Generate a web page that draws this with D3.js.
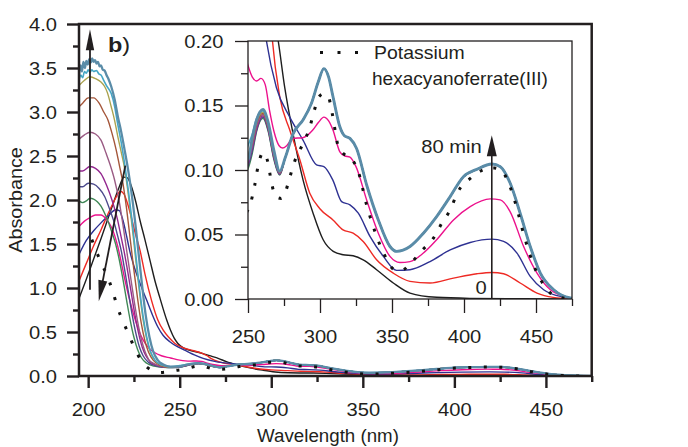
<!DOCTYPE html>
<html>
<head>
<meta charset="utf-8">
<script src="https://cdn.jsdelivr.net/npm/d3@7"></script>
<style>
  html, body { margin: 0; padding: 0; background: #fff; }
  svg { display: block; }
  text { font-family: "Liberation Sans", Arial, Helvetica, sans-serif; fill: #231f20; }
</style>
</head>
<body>
<svg id="chart" width="688" height="447"></svg>
<script>
// ---- Spectra: [wavelength (nm), absorbance] ----
const spec0min = [[195,0.88],[199,1.10],[203,1.33],[207,1.56],[211,1.80],[214,1.98],[217,2.15],[219.5,2.26],[221.5,2.25],[223.7,2.15],[226,1.98],[228.3,1.77],[231,1.55],[233.7,1.32],[236.5,1.08],[239,0.90],[241,0.76],[243,0.63],[245,0.52],[247,0.43],[249,0.37],[252,0.32],[256,0.29],[260,0.27],[264,0.245],[268,0.22],[271,0.20],[275.5,0.164],[281.3,0.128],[288.3,0.092],[295.2,0.0665],[302.2,0.0459],[309.2,0.0369],[316,0.0343],[323,0.0335],[330,0.0304],[339.3,0.0227],[350.9,0.0124],[362.5,0.0046],[381,0.0013],[404,0.0005],[440,0.0002],[475,0]];

const specRed = [[195,1.08],[199,1.28],[203,1.48],[207,1.66],[211,1.85],[214,1.98],[216,2.06],[217.5,2.10],[219.5,2.07],[221.5,1.96],[223.5,1.81],[226,1.60],[228.3,1.43],[231,1.16],[234.6,0.86],[238,0.64],[241,0.52],[244,0.44],[247.4,0.37],[252,0.32],[257,0.29],[262,0.26],[265,0.23],[267,0.20],[272,0.157],[279,0.131],[286,0.108],[292.9,0.082],[299.9,0.070],[309,0.0613],[316,0.0536],[323,0.051],[330,0.0446],[339.3,0.0304],[350.9,0.020],[362.5,0.0137],[376.4,0.0124],[392.7,0.0162],[409,0.0196],[419.4,0.0206],[427.5,0.0196],[439,0.0124],[450.7,0.0046],[462,0.0013],[475,0.0002]];

const specBlue = [[195,1.38],[199,1.54],[203,1.65],[207,1.74],[211,1.82],[215,1.89],[217,1.88],[219,1.77],[221,1.59],[222.6,1.43],[225,1.25],[228,1.07],[232,0.86],[235,0.70],[238,0.56],[241,0.46],[244.6,0.39],[249,0.33],[254,0.28],[258,0.24],[262.8,0.20],[269.7,0.164],[279,0.141],[288.3,0.123],[297.6,0.104],[302.7,0.1026],[309,0.092],[315,0.0755],[320.8,0.073],[326.6,0.0665],[334.7,0.0485],[344,0.033],[353.2,0.0222],[362.5,0.0227],[376.4,0.029],[390.4,0.038],[404.3,0.0438],[419.3,0.0464],[427.5,0.0446],[436.8,0.0356],[446,0.0175],[455.3,0.0072],[469,0.0015],[475,0.0005]];

const specMagenta = [[195,1.70],[198,1.76],[201,1.80],[204,1.83],[207,1.83],[210,1.78],[213,1.68],[216.2,1.47],[218,1.30],[220,1.10],[222,0.92],[224,0.76],[226,0.62],[228,0.50],[230,0.41],[233,0.32],[236,0.27],[240,0.23],[245,0.205],[250,0.181],[253,0.172],[256,0.169],[259,0.171],[262,0.166],[265,0.146],[268,0.130],[271.5,0.119],[274,0.117],[277,0.119],[281,0.1245],[288,0.125],[295,0.131],[299,0.137],[302.7,0.141],[306,0.138],[309,0.131],[313.8,0.114],[317,0.111],[320.8,0.110],[325,0.1026],[332.4,0.0768],[340.5,0.051],[348.6,0.033],[355.5,0.0283],[362.5,0.029],[371.8,0.0356],[381,0.0459],[392.7,0.0613],[404.3,0.0716],[418.2,0.0776],[425.2,0.0768],[432,0.0678],[441.4,0.0407],[450.7,0.0201],[460,0.0072],[474,0.0008],[475,0.0006]];

// Later spectra coincide above ~275 nm
const settledTail = [[276,0.110],[281.3,0.128],[288.3,0.139],[294,0.1515],[298.7,0.168],[302.7,0.1786],[306,0.172],[309,0.157],[313.8,0.1335],[317,0.1265],[320.8,0.1245],[325.4,0.1167],[332.4,0.0884],[340.5,0.0613],[348.6,0.0407],[353.2,0.0369],[362.5,0.0407],[371.8,0.051],[381,0.0639],[390.4,0.0794],[399.6,0.0948],[408.9,0.1005],[419.4,0.1046],[425.2,0.1026],[432.1,0.0897],[439,0.0665],[446,0.0407],[453,0.0201],[462.3,0.0072],[473.9,0.0008],[475,0.0006]];

const headGreen = [[195,1.99],[197,1.97],[199,1.99],[201,2.02],[203,2.01],[205,1.98],[207,1.93],[209,1.85],[211,1.75],[213,1.63],[215,1.50],[217,1.32],[219,1.10],[221,0.86],[223,0.63],[225,0.44],[227,0.30],[229,0.21],[232,0.145],[236,0.112],[241,0.098],[246,0.096],[250,0.101],[253,0.113],[256,0.130],[260.4,0.140],[264,0.130],[268,0.108],[272,0.096]];
const headSlate = [[195,2.15],[197,2.15],[200,2.19],[203,2.18],[206,2.13],[209,2.04],[212,1.88],[214,1.76],[216,1.60],[218,1.43],[220,1.20],[222,0.95],[224,0.70],[226,0.49],[228,0.33],[230,0.23],[233,0.155],[237,0.115],[242,0.099],[246,0.097],[250,0.103],[253,0.115],[256,0.131],[260.4,0.141],[264,0.131],[268,0.109],[272,0.0965]];
const headPurple = [[195,2.33],[197,2.33],[201,2.38],[204,2.36],[207,2.30],[210,2.17],[213,2.00],[216,1.78],[218,1.58],[219.5,1.43],[221.5,1.20],[223.5,0.95],[225.5,0.70],[227.5,0.49],[229.5,0.33],[231.5,0.23],[234,0.16],[238,0.118],[243,0.10],[246,0.098],[250,0.105],[253,0.117],[256,0.132],[260.4,0.142],[264,0.132],[268,0.110],[272,0.097]];
const headMauve = [[195,2.69],[198,2.74],[201,2.77],[204,2.75],[207,2.68],[209.8,2.53],[212,2.40],[214.4,2.23],[217,1.98],[219,1.72],[221,1.43],[223,1.15],[225,0.87],[227,0.62],[229,0.42],[231,0.28],[233,0.19],[236,0.14],[240,0.11],[245,0.10],[250,0.107],[253,0.119],[256,0.134],[260.4,0.143],[264,0.133],[268,0.111],[272,0.0975]];
const headBrown = [[195,3.06],[197,3.10],[200,3.16],[203,3.16],[206,3.10],[208.5,3.00],[210.8,2.91],[213,2.76],[215.3,2.57],[217,2.40],[219,2.19],[221,1.90],[223,1.55],[225,1.20],[227,0.88],[229,0.60],[231,0.40],[233,0.27],[235.5,0.18],[239,0.125],[244,0.10],[250,0.109],[253,0.121],[256,0.136],[260.4,0.144],[264,0.134],[268,0.112],[272,0.098]];
const headOlive = [[195,3.30],[198,3.36],[201,3.40],[204,3.38],[207,3.34],[209,3.29],[210.5,3.22],[212.6,3.06],[214.5,2.90],[216.2,2.72],[218,2.55],[219.9,2.36],[222,2.05],[224,1.70],[226,1.32],[228,0.96],[230,0.64],[232,0.42],[234,0.27],[236.5,0.175],[240,0.125],[245,0.102],[250,0.111],[253,0.123],[256,0.138],[260.4,0.145],[264,0.135],[268,0.113],[272,0.0985]];
const headTeal = [[195,3.36],[196,3.42],[197,3.39],[198,3.46],[199,3.44],[200,3.48],[201,3.45],[202,3.48],[203,3.46],[204.5,3.47],[206,3.43],[207,3.42],[208.5,3.36],[210,3.30],[212.6,3.21],[214.5,3.06],[216,2.88],[218,2.66],[220,2.40],[222,2.10],[224,1.76],[226,1.38],[228,1.00],[230,0.68],[232,0.44],[234,0.28],[236.5,0.18],[240,0.127],[245,0.104],[250,0.119],[253,0.128],[256,0.140],[260.4,0.146],[264,0.136],[268,0.114],[272,0.099]];
const headSteel = [[195,3.42],[195.8,3.53],[196.6,3.46],[197.4,3.57],[198.2,3.50],[199,3.58],[199.8,3.54],[200.6,3.60],[201.4,3.56],[202.2,3.61],[203,3.57],[203.8,3.59],[204.6,3.55],[205.4,3.57],[206.2,3.52],[207,3.53],[208,3.48],[209,3.47],[210,3.42],[211.2,3.37],[212.6,3.29],[214.5,3.14],[216.2,2.95],[218,2.78],[219.9,2.57],[221.7,2.36],[223.5,2.11],[225.5,1.78],[227.5,1.40],[229.5,1.02],[231.5,0.68],[233.5,0.44],[235.5,0.28],[238,0.18],[241,0.13],[245,0.106],[250,0.108],[253,0.125],[256,0.139],[260.4,0.147],[264,0.137],[268,0.115],[272,0.099]];

// Reference compound (dotted)
const specFerricyanide = [[202,1.55],[206.8,1.30],[210.6,1.13],[213.5,0.955],[216.2,0.77],[219.5,0.60],[222.8,0.44],[226.4,0.27],[231.9,0.105],[239,0.04],[244,0.05],[248.3,0.065],[251.9,0.0747],[254.6,0.0879],[257,0.103],[260.4,0.1134],[263.9,0.1057],[266,0.092],[269.3,0.0794],[273,0.078],[275.5,0.0814],[279,0.0943],[282.5,0.107],[287.8,0.1196],[292.9,0.133],[296,0.146],[299.4,0.157],[302.5,0.159],[305.7,0.157],[308.5,0.1438],[312.6,0.1185],[316,0.113],[320.8,0.110],[326.6,0.0987],[332.4,0.0729],[339.8,0.0472],[344.7,0.0343],[352.1,0.0227],[357,0.0225],[362.5,0.0271],[370.6,0.0374],[378.8,0.0472],[384.6,0.0588],[390.4,0.069],[395.5,0.0825],[405,0.094],[415.9,0.101],[421,0.1015],[426.3,0.0992],[431.7,0.0879],[435.6,0.0747],[441.9,0.0484],[449.5,0.0232],[456,0.01],[463.4,0.0021],[475,0]];

// Time series in acquisition order (0 → 80 min)
const timeSeries = [
  spec0min, specRed, specBlue, specMagenta,
  headGreen.concat(settledTail), headSlate.concat(settledTail),
  headPurple.concat(settledTail), headMauve.concat(settledTail),
  headBrown.concat(settledTail), headOlive.concat(settledTail),
  headTeal.concat(settledTail), headSteel.concat(settledTail)
];
const seriesColors = ["#1e1e1e", "#ee2a24", "#2e3192", "#ec118c", "#3f8756", "#4c4a8c",
                      "#93278f", "#9a5b84", "#a4563a", "#aaa24e", "#45a7c6", "#5a8ca8"];
const seriesWidths = [1.4, 1.4, 1.4, 1.4, 1.4, 1.4, 1.4, 1.4, 1.4, 1.4, 1.6, 2.3];

// Axis ticks
const mainXTicks = [200, 250, 300, 350, 400, 450];
const mainXMinor = [225, 275, 325, 375, 425, 475];
const mainYTicks = [0, 0.5, 1.0, 1.5, 2.0, 2.5, 3.0, 3.5, 4.0];
const mainYMinor = [0.25, 0.75, 1.25, 1.75, 2.25, 2.75, 3.25, 3.75];
const insetXTicks = [250, 300, 350, 400, 450];
const insetXMinor = [275, 325, 375, 425, 475];
const insetYTicks = [0, 0.05, 0.10, 0.15, 0.20];
const insetYMinor = [0.025, 0.075, 0.125, 0.175];

// ---- Drawing ----
const INK = "#231f20";
const SX = 1.12;   // horizontal stretch of lettering
const svg = d3.select("#chart");

const mx = d3.scaleLinear().domain([195, 475]).range([79, 591.7]);
const my = d3.scaleLinear().domain([0, 4]).range([376, 24]);
const ix = d3.scaleLinear().domain([250, 475]).range([248, 572]);
const iy = d3.scaleLinear().domain([0, 0.2]).range([299, 41]);

const defs = svg.append("defs");
defs.append("clipPath").attr("id", "clipMain").append("rect")
  .attr("x", mx.range()[0]).attr("y", my.range()[1])
  .attr("width", mx.range()[1] - mx.range()[0]).attr("height", my.range()[0] - my.range()[1]);
defs.append("clipPath").attr("id", "clipInset").append("rect")
  .attr("x", ix.range()[0]).attr("y", iy.range()[1])
  .attr("width", ix.range()[1] - ix.range()[0]).attr("height", iy.range()[0] - iy.range()[1]);

function label(parent, x, y, str, size, anchor, sx) {
  return parent.append("text")
    .attr("transform", `translate(${x},${y}) scale(${sx || SX},1)`)
    .attr("text-anchor", anchor || "start")
    .style("font-size", (size || 18) + "px")
    .text(str);
}

function styleAxis(g, width) {
  g.select(".domain").remove();
  g.selectAll(".tick line").attr("stroke", INK).attr("stroke-width", width);
  g.selectAll(".tick text").style("font-size", "18px").attr("fill", INK);
}

function arrow(parent, x1, y1, x2, y2, headLen, headHalf, width) {
  const dx = x2 - x1, dy = y2 - y1, len = Math.hypot(dx, dy);
  const ux = dx / len, uy = dy / len;
  const bx = x2 - ux * headLen, by = y2 - uy * headLen;
  parent.append("line").attr("x1", x1).attr("y1", y1).attr("x2", bx + ux * 2).attr("y2", by + uy * 2)
    .attr("stroke", INK).attr("stroke-width", width);
  parent.append("path")
    .attr("d", `M${x2},${y2}L${bx - uy * headHalf},${by + ux * headHalf}L${bx + uy * headHalf},${by - ux * headHalf}Z`)
    .attr("fill", INK);
}

// ===== Main panel =====
const main = svg.append("g");

const mainLine = d3.line().x(d => mx(d[0])).y(d => my(d[1])).curve(d3.curveMonotoneX);
const mainCurves = main.append("g").attr("clip-path", "url(#clipMain)");
timeSeries.forEach((s, i) => {
  mainCurves.append("path").attr("d", mainLine(s)).attr("fill", "none")
    .attr("stroke", seriesColors[i]).attr("stroke-width", seriesWidths[i])
    .attr("stroke-linejoin", "round");
});
mainCurves.append("path").attr("d", mainLine(specFerricyanide)).attr("fill", "none")
  .attr("stroke", "#111").attr("stroke-width", 3).attr("stroke-dasharray", "3 12.5");

// axes
const yMajor = main.append("g").attr("transform", `translate(${mx.range()[0]},0)`)
  .call(d3.axisLeft(my).tickValues(mainYTicks).tickSize(12).tickFormat(d3.format(".1f")));
styleAxis(yMajor, 2.4);
yMajor.selectAll(".tick text").attr("x", -22 / SX).attr("dy", 6.3).attr("transform", `scale(${SX},1)`);
const yMinor = main.append("g").attr("transform", `translate(${mx.range()[0]},0)`)
  .call(d3.axisLeft(my).tickValues(mainYMinor).tickSize(6).tickFormat(""));
styleAxis(yMinor, 2.4);

const xMajor = main.append("g").attr("transform", `translate(0,${my.range()[0]})`)
  .call(d3.axisBottom(mx).tickValues(mainXTicks).tickSize(12).tickFormat(d3.format("d")));
styleAxis(xMajor, 2.4);
xMajor.selectAll(".tick text").attr("y", 40).attr("dy", null).attr("transform", `scale(${SX},1)`);
const xMinor = main.append("g").attr("transform", `translate(0,${my.range()[0]})`)
  .call(d3.axisBottom(mx).tickValues(mainXMinor).tickSize(6).tickFormat(""));
styleAxis(xMinor, 2.4);

// frame
main.append("rect")
  .attr("x", mx.range()[0]).attr("y", my.range()[1])
  .attr("width", mx.range()[1] - mx.range()[0]).attr("height", my.range()[0] - my.range()[1])
  .attr("fill", "none").attr("stroke", INK).attr("stroke-width", 2.5);

// axis titles
label(main, 328, 442, "Wavelength (nm)", 18, "middle", 1.04);
main.append("text")
  .attr("transform", `translate(21.5,200) rotate(-90) scale(1.1,1)`)
  .attr("text-anchor", "middle").style("font-size", "18px").text("Absorbance");

// panel tag
const tag = main.append("text").attr("transform", `translate(108,51.5) scale(${SX},1)`).style("font-size", "21px");
tag.append("tspan").style("font-weight", "bold").text("b");
tag.append("tspan").text(")");

// trend arrows
arrow(main, mx(201), my(0.98), mx(201), my(3.94), 21, 4.2, 1.8);
arrow(main, mx(220.3), my(2.39), mx(205.8), my(0.85), 21, 4.5, 1.8);

// ===== Inset panel =====
const inset = svg.append("g");
const insetLine = d3.line().x(d => ix(d[0])).y(d => iy(d[1])).curve(d3.curveMonotoneX);
const insetCurves = inset.append("g").attr("clip-path", "url(#clipInset)");
timeSeries.forEach((s, i) => {
  insetCurves.append("path").attr("d", insetLine(s)).attr("fill", "none")
    .attr("stroke", seriesColors[i]).attr("stroke-width", seriesWidths[i] + (i === 11 ? 0.6 : 0))
    .attr("stroke-linejoin", "round");
});
insetCurves.append("path").attr("d", insetLine(specFerricyanide)).attr("fill", "none")
  .attr("stroke", "#111").attr("stroke-width", 3).attr("stroke-dasharray", "3 11");

const iyMajor = inset.append("g").attr("transform", `translate(${ix.range()[0]},0)`)
  .call(d3.axisLeft(iy).tickValues(insetYTicks).tickSize(13).tickFormat(d3.format(".2f")));
styleAxis(iyMajor, 1.3);
iyMajor.selectAll(".tick text").attr("x", -24.5 / SX).attr("dy", 6.3).attr("transform", `scale(${SX},1)`);
const iyMinor = inset.append("g").attr("transform", `translate(${ix.range()[0]},0)`)
  .call(d3.axisLeft(iy).tickValues(insetYMinor).tickSize(7).tickFormat(""));
styleAxis(iyMinor, 1.3);

const ixMajor = inset.append("g").attr("transform", `translate(0,${iy.range()[0]})`)
  .call(d3.axisBottom(ix).tickValues(insetXTicks).tickSize(14).tickFormat(d3.format("d")));
styleAxis(ixMajor, 1.3);
ixMajor.selectAll(".tick text").attr("y", 44).attr("dy", null).attr("transform", `scale(${SX},1)`);
const ixMinor = inset.append("g").attr("transform", `translate(0,${iy.range()[0]})`)
  .call(d3.axisBottom(ix).tickValues(insetXMinor).tickSize(7).tickFormat(""));
styleAxis(ixMinor, 1.3);

inset.append("rect")
  .attr("x", ix.range()[0]).attr("y", iy.range()[1])
  .attr("width", ix.range()[1] - ix.range()[0]).attr("height", iy.range()[0] - iy.range()[1])
  .attr("fill", "none").attr("stroke", INK).attr("stroke-width", 1.3);

// time arrow across the 420 nm band
const arrowNm = 419.3;
arrow(inset, ix(arrowNm), iy(0), ix(arrowNm), iy(0.127), 21, 5, 1.6);
label(inset, ix(arrowNm) - 10, iy(0.127) + 18, "80 min", 18, "end");
label(inset, ix(arrowNm) - 5, 294, "0", 18, "end");

// legend
inset.append("path").attr("d", "M320,52.5H358").attr("stroke", "#111")
  .attr("stroke-width", 3).attr("stroke-dasharray", "3 14.5");
label(inset, 374, 58.5, "Potassium", 18, "start", 1.08);
label(inset, 372, 84.5, "hexacyanoferrate(III)", 18, "start", 1.06);
</script>
</body>
</html>
